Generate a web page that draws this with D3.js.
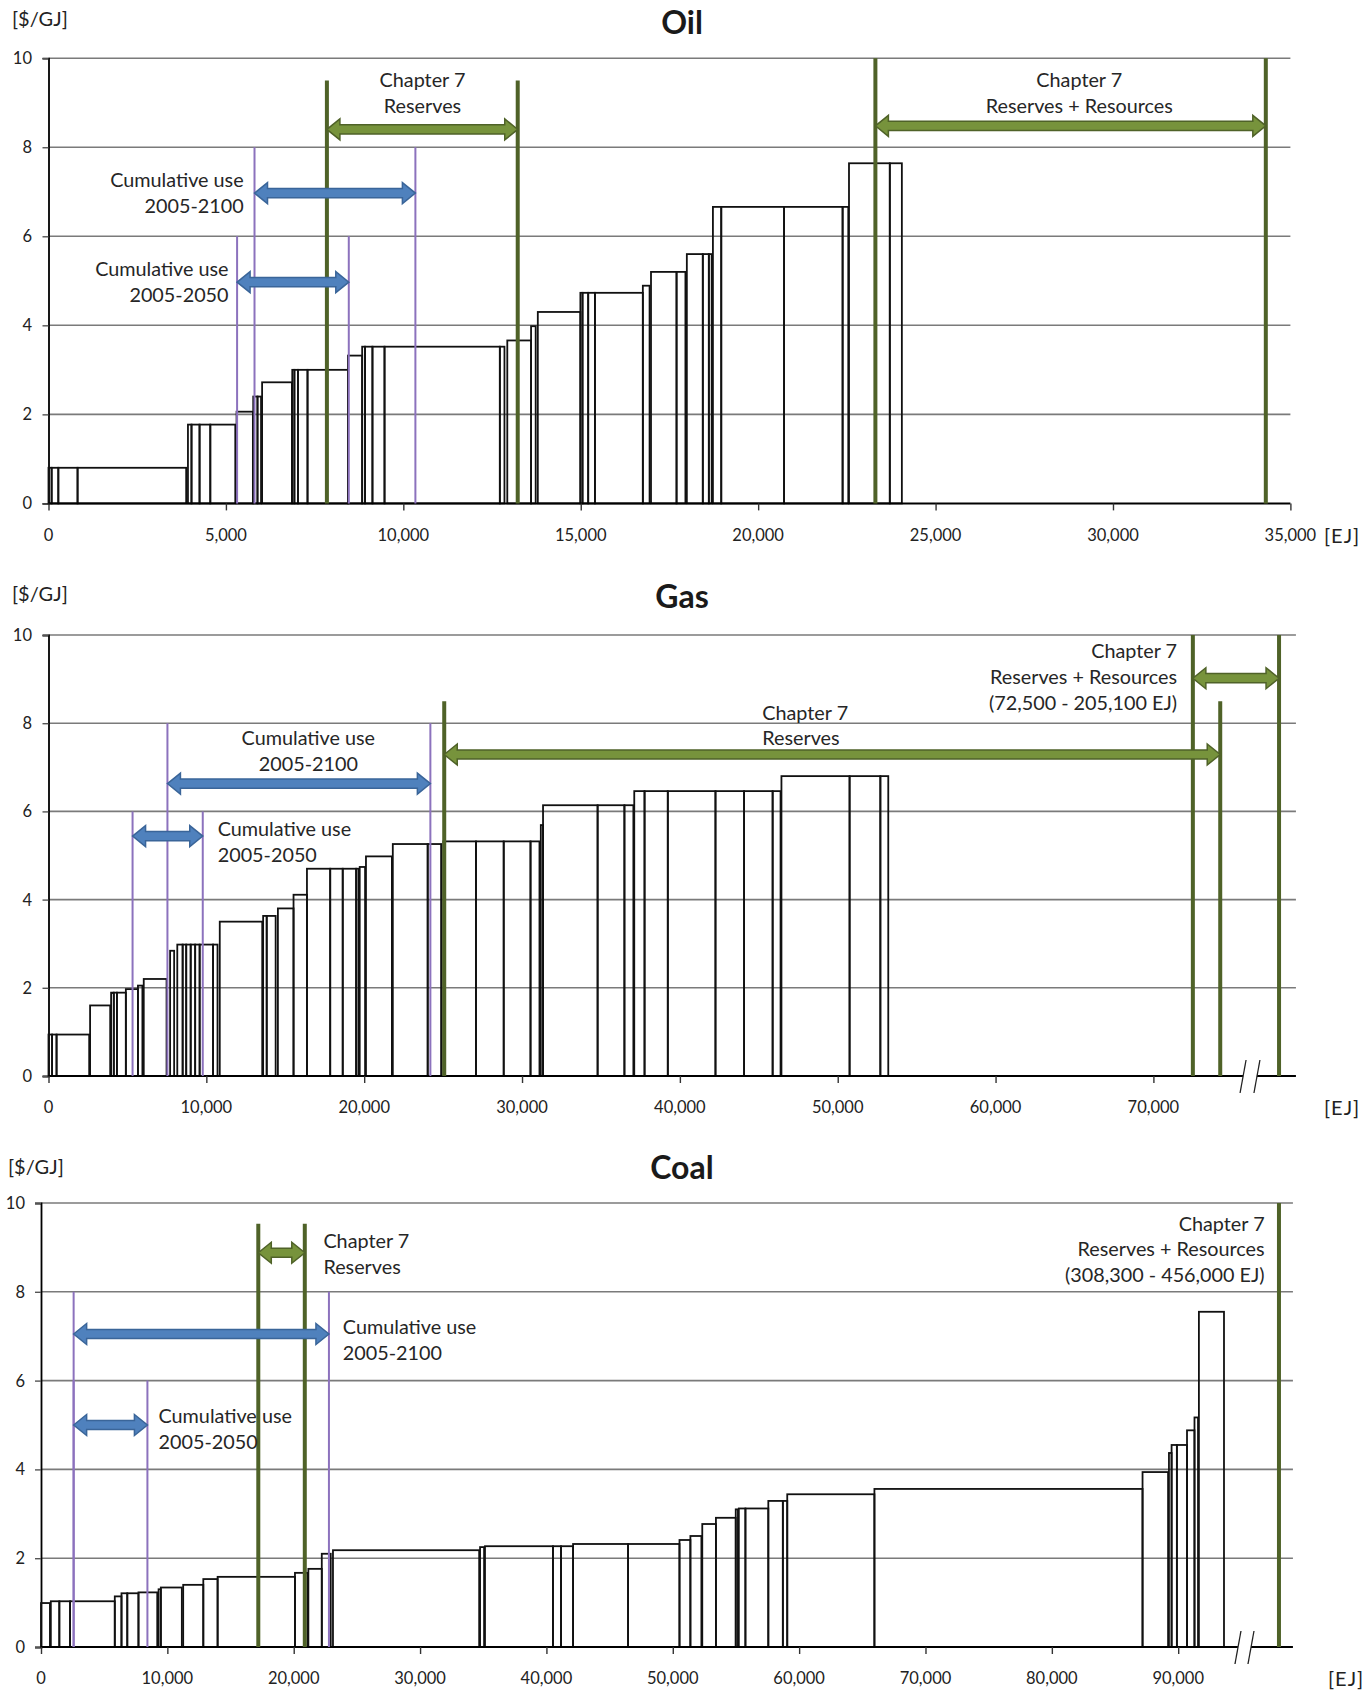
<!DOCTYPE html>
<html><head><meta charset="utf-8">
<script src="https://cdn.jsdelivr.net/npm/d3@7"></script>
<style>body{margin:0;background:#fff}svg{display:block}</style>
</head><body><svg id="c" width="1369" height="1690"></svg>
<script>
// ---------- DATA ----------
// supply blocks: [start EJ, end EJ, cost $/GJ]
const oilBlocks = [
 [0,88,0.8],[88,277,0.8],[277,819,0.8],[819,3880,0.8],
 [3930,4030,1.77],[4030,4257,1.77],[4257,4560,1.77],[4560,5264,1.77],
 [5300,5760,2.06],[5770,5890,2.4],[5890,5990,2.4],[6020,6860,2.72],
 [6870,6930,3.0],[6930,7030,3.0],[7030,7300,3.0],[7300,8440,3.0],
 [8440,8840,3.32],[8840,8920,3.52],[8920,9130,3.52],[9130,9470,3.52],[9470,12720,3.52],[12720,12850,3.52],
 [12930,13600,3.66],[13600,13730,3.98],[13790,14990,4.3],
 [14990,15050,4.73],[15050,15210,4.73],[15210,15400,4.73],[15400,16750,4.73],
 [16750,16940,4.89],[16980,17700,5.2],[17700,17950,5.2],
 [17990,18440,5.6],[18440,18610,5.6],[18610,18690,5.6],
 [18725,18960,6.66],[18960,20730,6.66],[20730,22380,6.66],[22380,22540,6.66],
 [22560,23710,7.64],[23710,24050,7.64]
];
const gasBlocks = [
 [0,227,0.94],[227,510,0.94],[510,2578,0.94],[2635,3909,1.6],
 [3966,4136,1.89],[4136,4334,1.89],[4334,4900,1.89],[4900,5666,1.97],[5666,5949,2.05],
 [6034,7479,2.2],[7705,7960,2.84],
 [8159,8499,2.98],[8499,8725,2.98],[8725,9008,2.98],[9008,9292,2.98],[9292,9575,2.98],[9575,10425,2.98],[10425,10708,2.98],
 [10850,13541,3.5],[13598,13824,3.63],[13824,14391,3.63],[14533,15524,3.8],[15524,16374,4.11],
 [16374,17847,4.7],[17847,18640,4.7],[18640,19490,4.7],[19490,19632,4.7],[19717,20057,4.74],
 [20113,21756,4.98],[21813,24023,5.26],[24023,24873,5.26],
 [25014,27082,5.32],[27082,28839,5.32],[28839,30538,5.32],[30538,31105,5.32],[31190,31331,5.69],
 [31331,34788,6.14],[34788,36487,6.14],[36487,37054,6.14],
 [37110,37762,6.46],[37762,39235,6.46],[39235,42256,6.46],[42256,44067,6.46],[44067,45877,6.46],[45877,46379,6.46],
 [46435,50752,6.8],[50752,52702,6.8],[52702,53203,6.8]
];
const coalBlocks = [
 [0,708,0.99],[778,1451,1.03],[1451,2300,1.03],[2300,5839,1.03],[5839,6370,1.14],
 [6370,6829,1.21],[6829,7714,1.21],[7714,9200,1.23],[9306,9483,1.3],[9483,11146,1.34],
 [11253,12845,1.4],[12845,13977,1.53],[13977,20099,1.58],[20099,21090,1.67],[21160,22222,1.76],
 [22222,22930,2.1],[23107,34678,2.18],[34749,35067,2.25],
 [35138,40517,2.27],[40517,41154,2.27],[41154,42109,2.27],[42109,46461,2.32],[46461,50531,2.32],
 [50531,51394,2.41],[51394,52265,2.5],[52334,53415,2.77],[53415,54983,2.91],[54983,55157,3.1],
 [55226,55749,3.12],[55749,57561,3.12],[57561,58711,3.29],[58711,59059,3.29],[59059,65958,3.44],
 [65958,87178,3.56],[87178,89199,3.94],[89268,89477,4.37],[89477,89895,4.55],[89895,90697,4.55],
 [90697,91289,4.88],[91289,91568,5.17],[91638,93624,7.55]
];
const oilTicks = [0,5000,10000,15000,20000,25000,30000,35000];
const gasTicks = [0,10000,20000,30000,40000,50000,60000,70000];
const coalTicks = [0,10000,20000,30000,40000,50000,60000,70000,80000,90000];
const yTicks = [0,2,4,6,8,10];
const titles = ["Oil","Gas","Coal"];

// markers: cumulative use ranges and chapter 7 ranges (EJ)
const oilCum2050 = [5315, 8463];  const oilCum2100 = [5806, 10340];
const oilReserves = [7846, 13224]; const oilResRes = [23304, 34307];
const gasCum2050 = [5326, 9773];  const gasCum2100 = [7535, 24193];
const gasReserves = [25071, 74234]; const gasResRes = [72500, 205100];
const coalCum2050 = [2583, 8422]; const coalCum2100 = [2583, 22788];
const coalReserves = [17197, 20877]; const coalResRes = [308300, 456000];

// ---------- LAYOUT ----------
const svg = d3.select("#c");
const FONT = "Lato, 'Open Sans', sans-serif";
const GREEN = "#4f6228", GREENF = "#77933c", BLUE = "#4f81bd", BLUED = "#3a6599", PURPLE = "#8c72bd";

const panels = [
 {title:titles[0], blocks:oilBlocks, ticks:oilTicks, dom:35000, x0:48.5, x1:1290.4, yT:58.2, yB:503.4, axisEnd:35000,
  titleY:34, unitX:12, unitY:26, tickY:535, ejX:1324, yLabX:32, brk:null, farPos:null},
 {title:titles[1], blocks:gasBlocks, ticks:gasTicks, dom:70000, x0:48.5, x1:1153.4, yT:635, yB:1076, axisEnd:79030,
  titleY:608, unitX:12, unitY:601, tickY:1107, ejX:1324, yLabX:32, brk:[75680,76560], farPos:77960},
 {title:titles[2], blocks:coalBlocks, ticks:coalTicks, dom:90000, x0:41, x1:1178.2, yT:1203, yB:1647, axisEnd:99080,
  titleY:1179, unitX:8, unitY:1174, tickY:1678, ejX:1328, yLabX:25, brk:[94730,95760], farPos:97975}
];

function dblArrow(xa, xb, y, shaft=4.6, head=10.5, hl=13){
  return `M${xa},${y}L${xa+hl},${y-head}L${xa+hl},${y-shaft}L${xb-hl},${y-shaft}L${xb-hl},${y-head}L${xb},${y}`+
         `L${xb-hl},${y+head}L${xb-hl},${y+shaft}L${xa+hl},${y+shaft}L${xa+hl},${y+head}Z`;
}

panels.forEach((p, i) => {
  const x = d3.scaleLinear().domain([0, p.dom]).range([p.x0, p.x1]);
  const y = d3.scaleLinear().domain([0, 10]).range([p.yB, p.yT]);
  const g = svg.append("g");
  const xEnd = x(p.axisEnd);

  // gridlines
  g.selectAll(".grid").data(yTicks.filter(d => d > 0)).join("line")
    .attr("x1", p.x0).attr("x2", xEnd).attr("y1", d => y(d)).attr("y2", d => y(d))
    .attr("stroke", "#7a7a7a").attr("stroke-width", 1.6);

  // y axis
  const ya = d3.axisLeft(y).tickValues(yTicks).tickSize(6).tickFormat(d3.format("d"));
  const yg = g.append("g").attr("transform", `translate(${p.x0},0)`).call(ya);
  yg.select(".domain").attr("stroke", "#000").attr("stroke-width", 1.8);
  yg.selectAll(".tick line").attr("stroke", "#555").attr("stroke-width", 1.4);
  yg.selectAll(".tick text").remove();
  g.selectAll(".ylab").data(yTicks).join("text")
    .attr("x", p.yLabX).attr("y", d => y(d)).attr("text-anchor", "end").attr("dominant-baseline", "central")
    .attr("font-family", FONT).attr("font-size", 16.5).attr("fill", "#222").text(d => d);

  // blocks
  g.selectAll(".blk").data(p.blocks).join("rect")
    .attr("x", d => x(d[0])).attr("width", d => x(d[1]) - x(d[0]))
    .attr("y", d => y(d[2])).attr("height", d => y(0) - y(d[2]))
    .attr("fill", "none").attr("stroke", "#111").attr("stroke-width", 1.8);

  // x axis line (with break)
  if (p.brk) {
    g.append("line").attr("x1", p.x0).attr("x2", x(p.brk[0])).attr("y1", p.yB).attr("y2", p.yB).attr("stroke", "#000").attr("stroke-width", 2);
    g.append("line").attr("x1", x(p.brk[1])).attr("x2", xEnd).attr("y1", p.yB).attr("y2", p.yB).attr("stroke", "#000").attr("stroke-width", 2);
    p.brk.forEach(b => {
      g.append("line").attr("x1", x(b) - 3).attr("y1", p.yB + 17).attr("x2", x(b) + 3).attr("y2", p.yB - 16)
        .attr("stroke", "#222").attr("stroke-width", 1.3);
    });
  } else {
    g.append("line").attr("x1", p.x0).attr("x2", xEnd).attr("y1", p.yB).attr("y2", p.yB).attr("stroke", "#000").attr("stroke-width", 2);
  }
  const xa = d3.axisBottom(x).tickValues(p.ticks).tickSize(7).tickFormat(d3.format(","));
  const xg = g.append("g").attr("transform", `translate(0,${p.yB})`).call(xa);
  xg.select(".domain").remove();
  xg.selectAll(".tick line").attr("stroke", "#333").attr("stroke-width", 1.4);
  xg.selectAll(".tick text").remove();
  g.selectAll(".xlab").data(p.ticks).join("text")
    .attr("x", d => x(d)).attr("y", p.tickY).attr("text-anchor", "middle").attr("dominant-baseline", "central")
    .attr("font-family", FONT).attr("font-size", 16.5).attr("fill", "#222").text(d3.format(","));
  g.append("text").attr("x", p.ejX).attr("y", p.tickY).attr("dominant-baseline", "central")
    .attr("font-family", FONT).attr("font-size", 20).attr("letter-spacing", 1).attr("fill", "#222").text("[EJ]");

  // titles and unit
  g.append("text").attr("x", 682).attr("y", p.titleY).attr("text-anchor", "middle")
    .attr("font-family", FONT).attr("font-weight", "bold").attr("font-size", 32).attr("fill", "#1a1a1a").text(p.title);
  g.append("text").attr("x", p.unitX).attr("y", p.unitY)
    .attr("font-family", FONT).attr("font-size", 20).attr("fill", "#222").text("[$/GJ]");

  p.x = x; p.y = y; p.g = g;
});

// ---------- ANNOTATIONS ----------
function vline(p, v, top, color, w){
  p.g.append("line").attr("x1", p.x(v)).attr("x2", p.x(v)).attr("y1", p.y(0)).attr("y2", p.y(top))
    .attr("stroke", color).attr("stroke-width", w);
}
function arrow(p, a, b, lvl, fill, stroke){
  p.g.append("path").attr("d", dblArrow(p.x(a), p.x(b), p.y(lvl)))
    .attr("fill", fill).attr("stroke", stroke).attr("stroke-width", 1.5);
}
function label(p, xv, lvls, lines, anchor){
  lines.forEach((t, k) => {
    p.g.append("text").attr("x", p.x(xv)).attr("y", p.y(lvls[k])).attr("text-anchor", anchor)
      .attr("dominant-baseline", "central").attr("font-family", FONT).attr("font-size", 19.8)
      .attr("fill", "#262626").text(t);
  });
}
const [pO, pG, pC] = panels;

// Oil
oilCum2050.forEach(v => vline(pO, v, 6, PURPLE, 2));
oilCum2100.forEach(v => vline(pO, v, 8, PURPLE, 2));
oilReserves.forEach(v => vline(pO, v, 9.5, GREEN, 4));
oilResRes.forEach(v => vline(pO, v, 10, GREEN, 4));
arrow(pO, oilCum2050[0], oilCum2050[1], 4.97, BLUE, BLUED);
arrow(pO, oilCum2100[0], oilCum2100[1], 6.97, BLUE, BLUED);
arrow(pO, oilReserves[0], oilReserves[1], 8.4, GREENF, GREEN);
arrow(pO, oilResRes[0], oilResRes[1], 8.48, GREENF, GREEN);
label(pO, 10540, [9.54, 8.96], ["Chapter 7", "Reserves"], "middle");
label(pO, 29050, [9.54, 8.96], ["Chapter  7", "Reserves + Resources"], "middle");
label(pO, 5500, [7.29, 6.71], ["Cumulative use", "2005-2100"], "end");
label(pO, 5075, [5.28, 4.70], ["Cumulative use", "2005-2050"], "end");

// Gas
gasCum2050.forEach(v => vline(pG, v, 6, PURPLE, 2));
gasCum2100.forEach(v => vline(pG, v, 8, PURPLE, 2));
gasReserves.forEach(v => vline(pG, v, 8.5, GREEN, 4));
vline(pG, gasResRes[0], 10, GREEN, 4);
vline(pG, pG.farPos, 10, GREEN, 4); // upper bound (205,100 EJ) drawn beyond the axis break
arrow(pG, gasCum2050[0], gasCum2050[1], 5.44, BLUE, BLUED);
arrow(pG, gasCum2100[0], gasCum2100[1], 6.63, BLUE, BLUED);
arrow(pG, gasReserves[0], gasReserves[1], 7.29, GREENF, GREEN);
arrow(pG, gasResRes[0], pG.farPos, 9.02, GREENF, GREEN);
label(pG, 45220, [8.26, 7.68], ["Chapter 7", "Reserves"], "start");
label(pG, 71500, [9.66, 9.07, 8.48], ["Chapter 7", "Reserves + Resources",
  `(${d3.format(",")(gasResRes[0])} - ${d3.format(",")(gasResRes[1])}  EJ)`], "end");
label(pG, 16460, [7.68, 7.09], ["Cumulative use", "2005-2100"], "middle");
label(pG, 10720, [5.62, 5.04], ["Cumulative use", "2005-2050"], "start");

// Coal
coalCum2050.forEach(v => vline(pC, v, 6, PURPLE, 2));
coalCum2100.forEach(v => vline(pC, v, 8, PURPLE, 2));
coalReserves.forEach(v => vline(pC, v, 9.53, GREEN, 4));
vline(pC, pC.farPos, 10, GREEN, 4); // reserves + resources lie beyond the axis break
arrow(pC, coalCum2050[0], coalCum2050[1], 5.0, BLUE, BLUED);
arrow(pC, coalCum2100[0], coalCum2100[1], 7.05, BLUE, BLUED);
arrow(pC, coalReserves[0], coalReserves[1], 8.88, GREENF, GREEN);
label(pC, 22350, [9.17, 8.59], ["Chapter 7", "Reserves"], "start");
label(pC, 96840, [9.56, 8.98, 8.40], ["Chapter 7", "Reserves + Resources",
  `(${d3.format(",")(coalResRes[0])} - ${d3.format(",")(coalResRes[1])} EJ)`], "end");
label(pC, 23890, [7.23, 6.65], ["Cumulative use", "2005-2100"], "start");
label(pC, 9300, [5.22, 4.64], ["Cumulative use", "2005-2050"], "start");
</script>
</body></html>
